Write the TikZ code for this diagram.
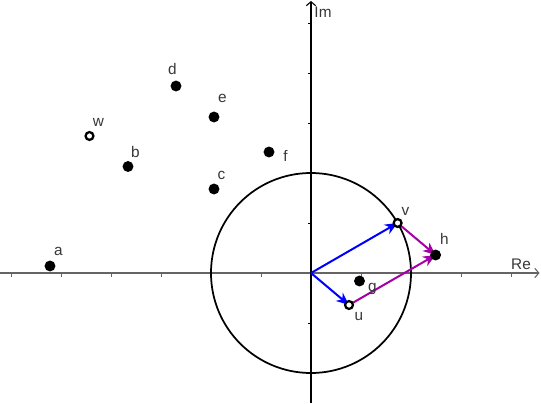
\documentclass[tikz,border=0pt]{standalone}
\usepackage{fontspec}
\setmainfont{Liberation Sans}
\usetikzlibrary{arrows.meta}
\definecolor{vecblue}{RGB}{0,0,255}
\definecolor{vecmag}{RGB}{165,0,165}
\definecolor{labgray}{RGB}{55,55,55}
\definecolor{axgray}{RGB}{100,100,100}
\begin{document}
\begin{tikzpicture}[x=37.5pt,y=37.5pt,
  dot/.style={circle,fill=black,inner sep=0pt,minimum size=8.2pt},
  opendot/.style={circle,draw=black,line width=1.7pt,fill=white,inner sep=0pt,minimum size=5.9pt},
  lab/.style={inner sep=0pt,text=labgray,font=\fontsize{11.5}{13}\selectfont},
  axis/.style={line width=0.8pt,-{Straight Barb[length=3pt,width=7pt]}},
  vec/.style={line width=1.5pt,-{Stealth[length=9.5pt,width=8pt,inset=3pt]}},
  tickmark/.style={line width=0.6pt}]
\useasboundingbox (-6.22,-2.6) rectangle (4.6,5.46);
% axes
\coordinate (xl) at (-6.22,0);
\coordinate (xr) at (4.57,0);
\coordinate (yb) at (0,-2.6);
\coordinate (yt) at (0,5.44);
\draw[axis,axgray] (xl) -- (xr);
\draw[axis,black] (yb) -- (yt);
\foreach \i in {-6,-5,-4,-3,-2,-1,1,2,3,4}
  \draw[tickmark,axgray] (\i,0) -- (\i,-0.07);
\foreach \j in {-2,-1,1,2,3,4,5}
  \draw[tickmark,black] (0,\j) -- (-0.07,\j);
\node[lab] (Re) at (4.2,0.17) {Re};
\node[lab] (Im) at (0.24,5.21) {Im};
% circle of radius 2
\draw[line width=1.3pt] (0,0) circle (2);
% point positions
\coordinate (O) at (0,0);
\coordinate (pv) at (1.732,1.0);
\coordinate (pu) at (0.76,-0.64);
\coordinate (ph) at (2.492,0.36);
% vectors
\draw[vec,vecblue] (O) -- (pv);
\draw[vec,vecblue] (O) -- (pu);
\draw[vec,vecmag] (pv) -- (ph);
\draw[vec,vecmag] (pu) -- (ph);
% points
\node[dot] (a) at (-5.22,0.14) {};
\node[opendot] (w) at (-4.43,2.74) {};
\node[dot] (b) at (-3.66,2.13) {};
\node[dot] (d) at (-2.7,3.74) {};
\node[dot] (e) at (-1.94,3.12) {};
\node[dot] (c) at (-1.94,1.68) {};
\node[dot] (f) at (-0.84,2.42) {};
\node[opendot] (v) at (pv) {};
\node[dot] (h) at (ph) {};
\node[dot] (g) at (0.97,-0.16) {};
\node[opendot] (u) at (pu) {};
% labels
\node[lab] at (-5.05,0.43) {a};
\node[lab] at (-4.25,3.02) {w};
\node[lab] at (-3.51,2.41) {b};
\node[lab] at (-2.77,4.08) {d};
\node[lab] at (-1.77,3.49) {e};
\node[lab] at (-1.79,1.95) {c};
\node[lab] at (-0.51,2.34) {f};
\node[lab] at (1.89,1.24) {v};
\node[lab] at (2.67,0.68) {h};
\node[lab] at (1.23,-0.32) {g};
\node[lab] at (0.96,-0.88) {u};
\end{tikzpicture}
\end{document}
